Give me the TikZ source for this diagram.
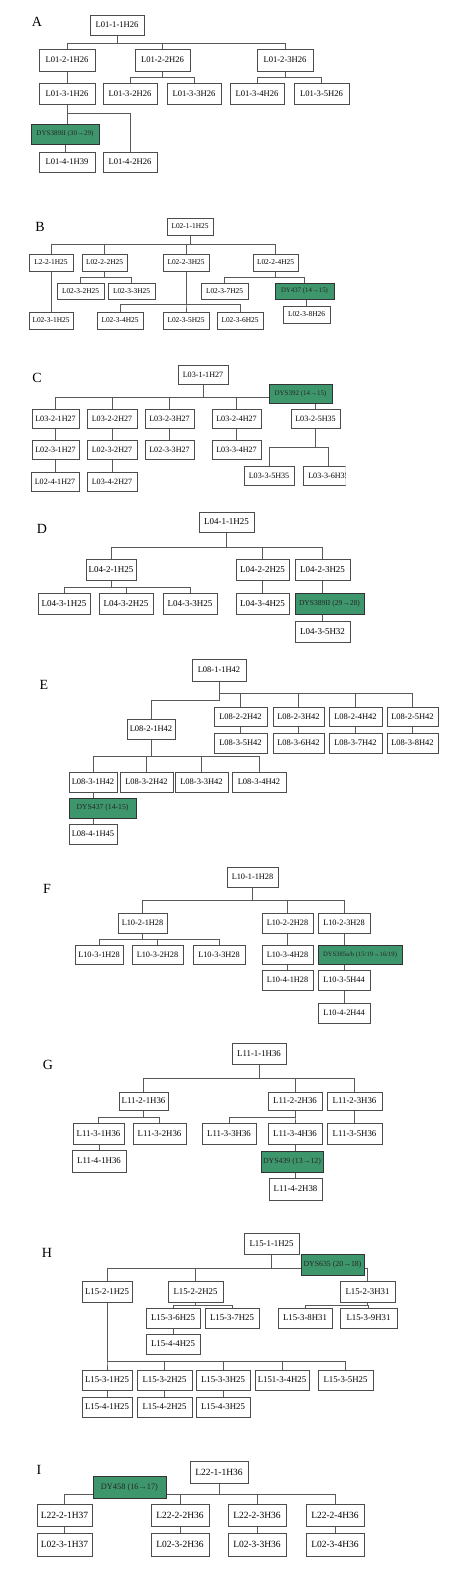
\documentclass[tikz,border=0pt]{standalone}
\usepackage{graphicx}
\usepackage{fontspec}
\setmainfont{Liberation Serif}
\usetikzlibrary{shadows,backgrounds}
\definecolor{gr}{RGB}{62,150,108}
\newcommand\fs{\fontsize{8.5}{10}\selectfont}
\tikzset{
 bx/.style={draw=black!70, line width=0.7pt, fill=white, inner sep=0pt, outer sep=0pt, font=\fs,
   general shadow={fill=black!45, shadow xshift=0.7pt, shadow yshift=-0.7pt}},
 gbx/.style={bx, fill=gr, draw=black!80, text=black!85},
 ln/.style={draw=black!65, line width=0.6pt},
 lab/.style={font=\fontsize{14}{16}\selectfont, anchor=center},
}
\newcommand\BX[7][bx]{%
 \pgfmathsetmacro\bw{#5-#3}\pgfmathsetmacro\bh{#6-#4}%
 \pgfmathsetmacro\bcx{(#3+#5)/2}\pgfmathsetmacro\bcy{(#4+#6)/2}%
 \node[#1,minimum width=\bw pt,minimum height=\bh pt] (#2) at (\bcx,\bcy) {#7};}
\newcommand\GT[2]{\resizebox{#1}{!}{\fontsize{7}{8}\selectfont #2}}
\newcommand\CN[3]{\draw[ln] (#1.south) |- (#2.north |- 0,#3) -- (#2.north);}
\newcommand\VC[2]{\draw[ln] (#2.north |- #1.south) -- (#2.north);}
\newcommand\VPa[2]{\draw[ln] (#1.south) -- (#1.south |- #2.north);}
\begin{document}
\begin{tikzpicture}[x=1pt,y=-1pt]
\useasboundingbox (0,0) rectangle (464,1580);
% ---------- A
\renewcommand\fs{\fontsize{8.6}{10}\selectfont}
\node[lab] at (37,22) {A};
\BX{a1}{90}{15}{144}{35}{L01-1-1H26}
\BX{a21}{39}{49}{95}{71}{L01-2-1H26}
\BX{a22}{135}{49}{190}{71}{L01-2-2H26}
\BX{a23}{257}{49}{313}{71}{L01-2-3H26}
\BX{a31}{39}{83}{95}{104}{L01-3-1H26}
\BX{a32}{103}{83}{157}{104}{L01-3-2H26}
\BX{a33}{167}{83}{221}{104}{L01-3-3H26}
\BX{a34}{230}{83}{284}{104}{L01-3-4H26}
\BX{a35}{294}{83}{349}{104}{L01-3-5H26}
\BX[gbx]{ag}{31}{124}{99}{144}{\GT{57pt}{DYS389II (30→29)}}
\BX{a41}{39}{152}{95}{172}{L01-4-1H39}
\BX{a42}{103}{152}{157}{172}{L01-4-2H26}
% ---------- B
\renewcommand\fs{\fontsize{7.4}{9}\selectfont}
\node[lab] at (40,227) {B};
\BX{b1}{167}{218}{213}{235}{L02-1-1H25}
\BX{b21}{29}{254}{73}{271}{L2-2-1H25}
\BX{b22}{82}{254}{127}{271}{L02-2-2H25}
\BX{b23}{163}{254}{209}{271}{L02-2-3H25}
\BX{b24}{253}{254}{298}{271}{L02-2-4H25}
\BX{b32}{57}{283}{104}{299}{L02-3-2H25}
\BX{b33}{108}{283}{155}{299}{L02-3-3H25}
\BX{b37}{201}{283}{248}{299}{L02-3-7H25}
\BX[gbx]{bg}{275}{283}{334}{299}{\GT{47pt}{DY437 (14→15)}}
\BX{b31}{29}{312}{73}{329}{L02-3-1H25}
\BX{b34}{97}{312}{143}{329}{L02-3-4H25}
\BX{b35}{163}{312}{209}{329}{L02-3-5H25}
\BX{b36}{217}{312}{263}{329}{L02-3-6H25}
\BX{b38}{283}{306}{330}{323}{L02-3-8H26}
% ---------- C
\renewcommand\fs{\fontsize{8.1}{10}\selectfont}
\node[lab] at (37,378) {C};
\BX{c1}{178}{365}{228}{384}{L03-1-1H27}
\BX[gbx]{cg}{269}{384}{332}{403}{\GT{52pt}{DYS392 (14→15)}}
\BX{c21}{32}{409}{79}{428}{L03-2-1H27}
\BX{c22}{87}{409}{137}{428}{L03-2-2H27}
\BX{c23}{145}{409}{194}{428}{L03-2-3H27}
\BX{c24}{212}{409}{261}{428}{L03-2-4H27}
\BX{c25}{291}{409}{340}{428}{L03-2-5H35}
\BX{c31}{32}{440}{79}{459}{L02-3-1H27}
\BX{c32}{87}{440}{137}{459}{L02-3-2H27}
\BX{c33}{145}{440}{194}{459}{L02-3-3H27}
\BX{c34}{212}{440}{261}{459}{L03-3-4H27}
\BX{c41}{31}{472}{79}{491}{L02-4-1H27}
\BX{c42}{87}{472}{137}{491}{L03-4-2H27}
\BX{c35}{244}{466}{294}{485}{L03-3-5H35}
\begin{scope}
\clip (0,455) rectangle (345.5,495);
\BX{c36}{303}{466}{354}{485}{L03-3-6H35}
\end{scope}
% ---------- D
\renewcommand\fs{\fontsize{9}{11}\selectfont}
\node[lab] at (42,529) {D};
\BX{d1}{199}{512}{254}{532}{L04-1-1H25}
\BX{d21}{86}{559}{136}{580}{L04-2-1H25}
\BX{d22}{236}{559}{289}{580}{L04-2-2H25}
\BX{d23}{295}{559}{350}{580}{L04-2-3H25}
\BX{d31}{38}{593}{90}{614}{L04-3-1H25}
\BX{d32}{99}{593}{153}{614}{L04-3-2H25}
\BX{d33}{163}{593}{217}{614}{L04-3-3H25}
\BX{d34}{236}{593}{289}{614}{L04-3-4H25}
\BX[gbx]{dg}{295}{593}{364}{614}{\GT{61pt}{DYS389II (29→28)}}
\BX{d35}{295}{621}{350}{642}{L04-3-5H32}
% ---------- E
\renewcommand\fs{\fontsize{8.5}{10}\selectfont}
\node[lab] at (44,685) {E};
\BX{e1}{192}{659}{246}{681}{L08-1-1H42}
\BX{e22}{214}{707}{267}{726}{L08-2-2H42}
\BX{e23}{273}{707}{324}{726}{L08-2-3H42}
\BX{e24}{329}{707}{382}{726}{L08-2-4H42}
\BX{e25}{387}{707}{438}{726}{L08-2-5H42}
\BX{e35}{214}{733}{267}{753}{L08-3-5H42}
\BX{e36}{273}{733}{324}{753}{L08-3-6H42}
\BX{e37}{329}{733}{382}{753}{L08-3-7H42}
\BX{e38}{387}{733}{438}{753}{L08-3-8H42}
\BX{e21}{127}{719}{175}{739}{L08-2-1H42}
\BX{e31}{69}{772}{117}{792}{L08-3-1H42}
\BX{e32}{120}{772}{173}{792}{L08-3-2H42}
\BX{e33}{175}{772}{228}{792}{L08-3-3H42}
\BX{e34}{232}{772}{286}{792}{L08-3-4H42}
\BX[gbx]{eg}{69}{798}{136}{818}{\GT{52pt}{DYS437 (14-15)}}
\BX{e41}{69}{824}{117}{844}{L08-4-1H45}
% ---------- F
\renewcommand\fs{\fontsize{8.3}{10}\selectfont}
\node[lab] at (47,889) {F};
\BX{f1}{227}{867}{278}{887}{L10-1-1H28}
\BX{f21}{118}{913}{167}{933}{L10-2-1H28}
\BX{f22}{262}{913}{313}{933}{L10-2-2H28}
\BX{f23}{318}{913}{370}{933}{L10-2-3H28}
\BX{f31}{75}{945}{123}{964}{L10-3-1H28}
\BX{f32}{132}{945}{183}{964}{L10-3-2H28}
\BX{f33}{193}{945}{245}{964}{L10-3-3H28}
\BX{f34}{262}{945}{313}{964}{L10-3-4H28}
\BX[gbx]{fg}{318}{945}{402}{964}{\GT{74pt}{DYS385a/b (15/19→16/19)}}
\BX{f41}{262}{970}{313}{990}{L10-4-1H28}
\BX{f35}{318}{970}{370}{990}{L10-3-5H44}
\BX{f42}{318}{1003}{370}{1023}{L10-4-2H44}
% ---------- G
\renewcommand\fs{\fontsize{8.8}{10}\selectfont}
\node[lab] at (48,1065) {G};
\BX{g1}{232}{1043}{286}{1064}{L11-1-1H36}
\BX{g21}{119}{1092}{168}{1110}{L11-2-1H36}
\BX{g22}{268}{1092}{322}{1110}{L11-2-2H36}
\BX{g23}{327}{1092}{382}{1110}{L11-2-3H36}
\BX{g31}{73}{1123}{124}{1144}{L11-3-1H36}
\BX{g32}{133}{1123}{186}{1144}{L11-3-2H36}
\BX{g33}{202}{1123}{256}{1144}{L11-3-3H36}
\BX{g34}{268}{1123}{322}{1144}{L11-3-4H36}
\BX{g35}{327}{1123}{382}{1144}{L11-3-5H36}
\BX{g41}{72}{1150}{126}{1172}{L11-4-1H36}
\BX[gbx]{gg}{261}{1151}{323}{1172}{\GT{58pt}{DYS439 (13→12)}}
\BX{g42}{269}{1178}{322}{1200}{L11-4-2H38}
% ---------- H
\node[lab] at (47,1253) {H};
\BX{h1}{244}{1233}{299}{1254}{L15-1-1H25}
\BX[gbx]{hg}{301}{1254}{364}{1275}{\GT{58pt}{DYS635 (20→18)}}
\BX{h21}{82}{1281}{132}{1302}{L15-2-1H25}
\BX{h22}{168}{1281}{223}{1302}{L15-2-2H25}
\BX{h23}{340}{1281}{395}{1302}{L15-2-3H31}
\BX{h36}{146}{1308}{200}{1328}{L15-3-6H25}
\BX{h37}{205}{1308}{259}{1328}{L15-3-7H25}
\BX{h38}{278}{1308}{332}{1328}{L15-3-8H31}
\BX{h39}{340}{1308}{397}{1328}{L15-3-9H31}
\BX{h44}{146}{1334}{200}{1354}{L15-4-4H25}
\BX{h31}{82}{1370}{132}{1390}{L15-3-1H25}
\BX{h32}{137}{1370}{192}{1390}{L15-3-2H25}
\BX{h33}{196}{1370}{250}{1390}{L15-3-3H25}
\BX{h34}{255}{1370}{309}{1390}{L151-3-4H25}
\BX{h35}{318}{1370}{373}{1390}{L15-3-5H25}
\BX{h41}{82}{1397}{132}{1417}{L15-4-1H25}
\BX{h42}{137}{1397}{192}{1417}{L15-4-2H25}
\BX{h43}{196}{1397}{250}{1417}{L15-4-3H25}
% ---------- I
\renewcommand\fs{\fontsize{9.5}{11}\selectfont}
\node[lab] at (39,1470) {I};
\BX{i1}{190}{1461}{248}{1483}{L22-1-1H36}
\BX[gbx]{ig}{93}{1476}{166}{1498}{\GT{57pt}{DY458 (16→17)}}
\BX{i21}{37}{1504}{92}{1526}{L22-2-1H37}
\BX{i22}{151}{1504}{209}{1526}{L22-2-2H36}
\BX{i23}{228}{1504}{286}{1526}{L22-2-3H36}
\BX{i24}{306}{1504}{364}{1526}{L22-2-4H36}
\BX{i31}{37}{1533}{92}{1556}{L02-3-1H37}
\BX{i32}{151}{1533}{209}{1556}{L02-3-2H36}
\BX{i33}{228}{1533}{286}{1556}{L02-3-3H36}
\BX{i34}{306}{1533}{364}{1556}{L02-3-4H36}
% ---------- connectors
\begin{pgfonlayer}{background}
\CN{a1}{a21}{43}\CN{a1}{a22}{43}\CN{a1}{a23}{43}
\VC{a21}{a31}
\CN{a22}{a32}{77}\CN{a22}{a33}{77}
\CN{a23}{a34}{77}\CN{a23}{a35}{77}
\CN{a31}{a42}{113}\VPa{a31}{ag}\VPa{ag}{a41}
%
\CN{b1}{b21}{244}\CN{b1}{b22}{244}\CN{b1}{b23}{244}\CN{b1}{b24}{244}
\VC{b21}{b31}
\CN{b22}{b32}{277}\CN{b22}{b33}{277}
\CN{b23}{b34}{304}\CN{b23}{b35}{304}\CN{b23}{b36}{304}
\CN{b24}{b37}{277}\CN{b24}{bg}{277}
\VC{bg}{b38}
%
\CN{c1}{c21}{397}\CN{c1}{c22}{397}\CN{c1}{c23}{397}\CN{c1}{c24}{397}
\draw[ln] (c1.south) |- (cg.west |- 0,397);
\VC{cg}{c25}
\VC{c21}{c31}\VC{c22}{c32}\VC{c23}{c33}\VC{c24}{c34}
\VC{c31}{c41}\VC{c32}{c42}
\CN{c25}{c35}{447}\CN{c25}{c36}{447}
%
\CN{d1}{d21}{547}\CN{d1}{d22}{547}\CN{d1}{d23}{547}
\CN{d21}{d31}{587}\CN{d21}{d32}{587}\CN{d21}{d33}{587}
\VC{d22}{d34}
\VPa{d23}{dg}\VC{dg}{d35}
%
\CN{e1}{e22}{693}\CN{e1}{e23}{693}\CN{e1}{e24}{693}\CN{e1}{e25}{693}
\CN{e1}{e21}{700}
\VC{e22}{e35}\VC{e23}{e36}\VC{e24}{e37}\VC{e25}{e38}
\CN{e21}{e31}{756}\CN{e21}{e32}{756}\CN{e21}{e33}{756}\CN{e21}{e34}{756}
\VPa{e31}{eg}\VC{eg}{e41}
%
\CN{f1}{f21}{900}\CN{f1}{f22}{900}\CN{f1}{f23}{900}
\CN{f21}{f31}{939}\CN{f21}{f32}{939}\CN{f21}{f33}{939}
\VC{f22}{f34}\VC{f34}{f41}
\VPa{f23}{fg}\VC{fg}{f35}\VC{f35}{f42}
%
\CN{g1}{g21}{1078}\CN{g1}{g22}{1078}\CN{g1}{g23}{1078}
\CN{g21}{g31}{1117}\CN{g21}{g32}{1117}
\CN{g22}{g33}{1117}\CN{g22}{g34}{1117}
\VC{g23}{g35}\VC{g31}{g41}
\VPa{g34}{gg}\VC{gg}{g42}
%
\CN{h1}{h21}{1268}\CN{h1}{h22}{1268}\CN{h1}{h23}{1268}
\CN{h22}{h36}{1305}\CN{h22}{h37}{1305}
\CN{h23}{h38}{1305}\CN{h23}{h39}{1305}
\VC{h36}{h44}
\CN{h21}{h31}{1361}\CN{h21}{h32}{1361}\CN{h21}{h33}{1361}\CN{h21}{h34}{1361}\CN{h21}{h35}{1361}
\VC{h31}{h41}\VC{h32}{h42}\VC{h33}{h43}
%
\CN{i1}{i21}{1494}\CN{i1}{i22}{1494}\CN{i1}{i23}{1494}\CN{i1}{i24}{1494}
\VC{i21}{i31}\VC{i22}{i32}\VC{i23}{i33}\VC{i24}{i34}
\end{pgfonlayer}
\end{tikzpicture}
\end{document}
